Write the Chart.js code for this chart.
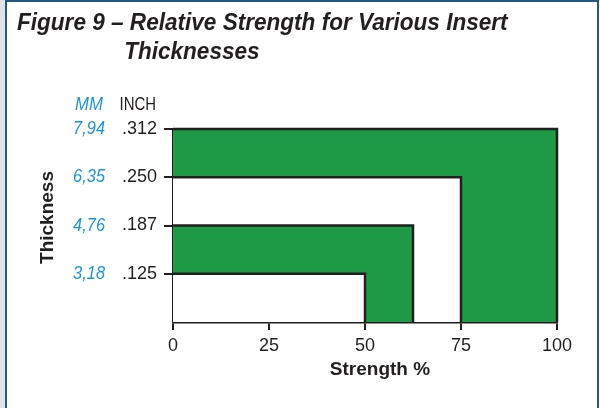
<!DOCTYPE html>
<html>
<head>
<meta charset="utf-8">
<script src="https://cdn.jsdelivr.net/npm/chart.js@4/dist/chart.umd.min.js"></script>
<style>
  html, body { margin: 0; padding: 0; background: #fff; }
  #wrap { position: relative; width: 600px; height: 408px; overflow: hidden; background: #fff; }
  #strip { position: absolute; left: 0; top: 0; width: 5px; height: 408px; background: #dfe2e7; }
  #frame { position: absolute; left: 5px; top: 0; width: 594px; height: 430px; box-sizing: border-box;
           border: 2px solid #24587f; border-bottom: none; }
  #title { position: absolute; left: 17px; top: 7px; margin: 0; white-space: nowrap;
           font: italic bold 24px 'Liberation Sans Narrow', 'Liberation Sans', sans-serif;
           line-height: 29px; color: #231f20;
           transform: scaleX(0.94); transform-origin: 0 0; }
  #title span { display: block; }
  #title span.l2 { padding-left: 114px; }
  canvas { position: absolute; left: 0; top: 0; }
</style>
</head>
<body>
<div id="wrap">
  <div id="strip"></div>
  <div id="frame"></div>
  <canvas id="chart" width="600" height="408"></canvas>
  <h1 id="title"><span>Figure 9 – Relative Strength for Various Insert</span><span class="l2">Thicknesses</span></h1>
</div>
<script>
// Insert thickness levels and their relative strength
const strength   = [50, 62.5, 75, 100];            // Strength %
const thickness  = [0.125, 0.1875, 0.25, 0.3125];  // inch
const inchLabels = ['.125', '.187', '.250', '.312'];
const mmLabels   = ['3,18', '4,76', '6,35', '7,94'];
const fillColors = ['#ffffff', '#1f9a46', '#ffffff', '#1f9a46'];
const xTicks     = [0, 25, 50, 75, 100];
const yFloor     = 0.0625;

const INK  = '#231f20';
const BLUE = '#1a96d4';
const FONT = "'Liberation Sans Narrow', 'Liberation Sans', sans-serif";

// Each thickness is a rectangle from the origin to (strength, thickness);
// the smaller ones sit on top of the larger ones.
const datasets = strength.map((s, i) => ({
  label: inchLabels[i],
  data: [{ x: 0, y: thickness[i] }, { x: s, y: thickness[i] }, { x: s, y: yFloor }],
  showLine: true,
  fill: 'start',
  backgroundColor: fillColors[i],
  borderColor: INK,
  borderWidth: 2.5,
  pointRadius: 0,
  tension: 0,
  clip: false,
  order: i
}));

// Text drawn narrower than the font's natural width
function narrowText(ctx, text, x, y, sx, rot) {
  ctx.save();
  ctx.translate(x, y);
  if (rot) ctx.rotate(rot);
  ctx.scale(sx, 1);
  ctx.fillText(text, 0, 0);
  ctx.restore();
}

// Metric column, column headers and axis titles
const annotations = {
  id: 'annotations',
  afterDraw(chart) {
    const { ctx, chartArea } = chart;
    const y = chart.scales.y;
    ctx.save();
    ctx.textBaseline = 'middle';
    ctx.font = `italic 18px ${FONT}`;
    ctx.fillStyle = BLUE;
    ctx.textAlign = 'right';
    thickness.forEach((t, i) => narrowText(ctx, mmLabels[i], 105, y.getPixelForValue(t), 0.91));
    const hy = y.getPixelForValue(thickness[thickness.length - 1]) - 24;
    ctx.textAlign = 'center';
    narrowText(ctx, 'MM', 89, hy, 0.93);
    ctx.font = `18px ${FONT}`;
    ctx.fillStyle = INK;
    ctx.textAlign = 'right';
    narrowText(ctx, 'INCH', 156, hy, 0.83);

    // axis titles
    ctx.font = `bold 19px ${FONT}`;
    ctx.textAlign = 'center';
    ctx.textBaseline = 'alphabetic';
    narrowText(ctx, 'Strength %', chartArea.left + 207, chartArea.bottom + 53, 1);
    narrowText(ctx, 'Thickness', 53, (chartArea.top + chartArea.bottom) / 2 - 8, 1, -Math.PI / 2);
    ctx.restore();
  }
};

new Chart(document.getElementById('chart'), {
  type: 'scatter',
  data: { datasets },
  plugins: [annotations],
  options: {
    responsive: false,
    animation: false,
    layout: { padding: { left: 35, top: 129, right: 43, bottom: 26 } },
    plugins: { legend: { display: false }, tooltip: { enabled: false } },
    scales: {
      x: {
        type: 'linear', min: 0, max: 100, z: 1,
        afterBuildTicks: s => { s.ticks = xTicks.map(v => ({ value: v })); },
        afterFit: s => { s.height = 60; },
        grid: { drawOnChartArea: false, drawTicks: true, tickLength: 8, color: INK, lineWidth: 2 },
        border: { display: true, color: INK, width: 2.5 },
        ticks: { color: INK, font: { family: FONT, size: 18 }, padding: 5, maxRotation: 0, autoSkip: false }
      },
      y: {
        type: 'linear', min: yFloor, max: thickness[thickness.length - 1], z: 1,
        afterBuildTicks: s => { s.ticks = thickness.map(v => ({ value: v })); },
        afterFit: s => { s.width = 138; },
        grid: { drawOnChartArea: false, drawTicks: true, tickLength: 9, color: INK, lineWidth: 2 },
        border: { display: true, color: INK, width: 2.5 },
        ticks: {
          color: INK, font: { family: FONT, size: 18 }, padding: 7, autoSkip: false,
          callback: v => inchLabels[thickness.indexOf(v)]
        }
      }
    }
  }
});
</script>
</body>
</html>
